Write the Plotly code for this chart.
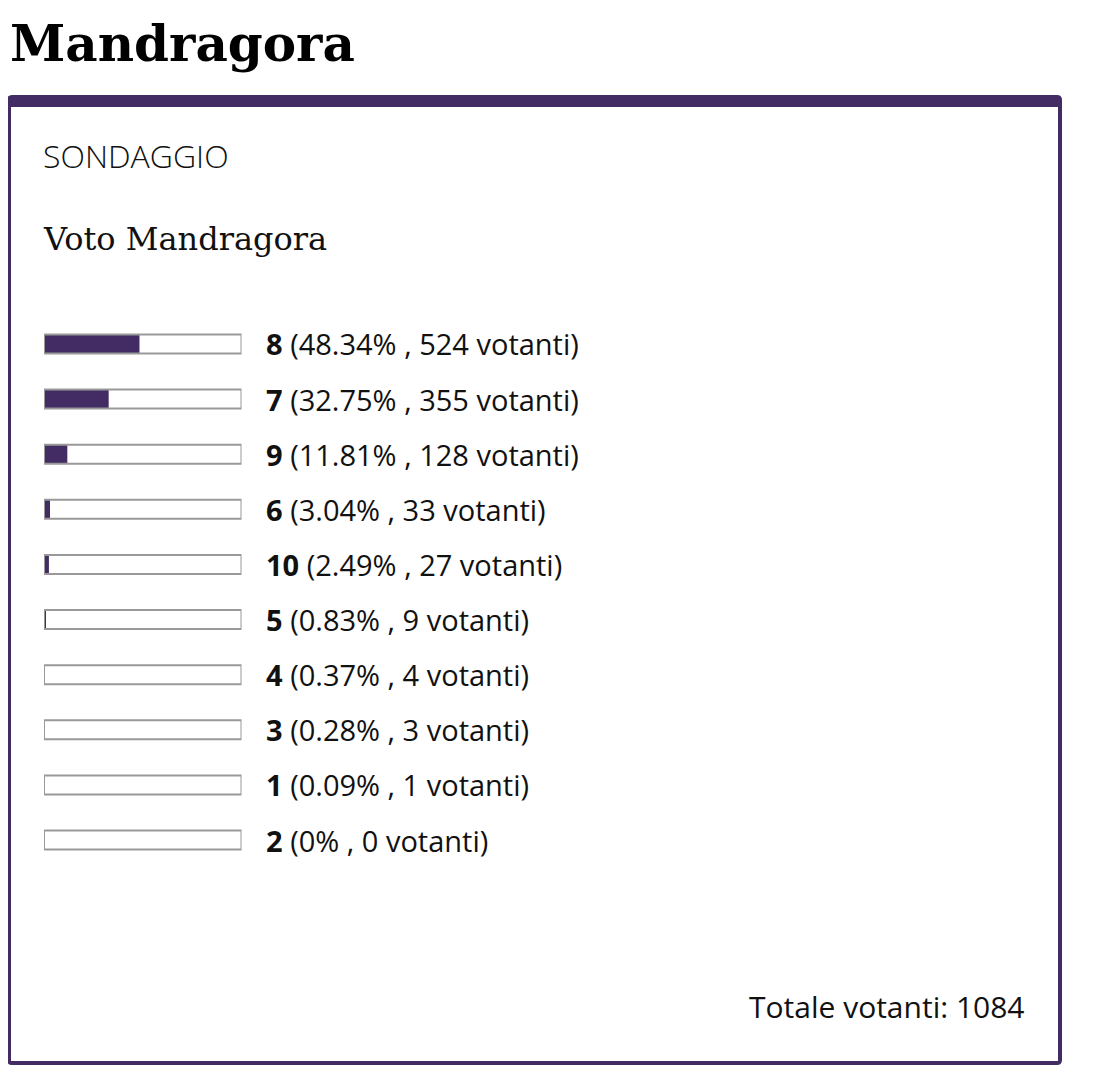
import plotly.graph_objects as go

# poll results (sorted as on the page)
options = ["8", "7", "9", "6", "10", "5", "4", "3", "1", "2"]
percents = [48.34, 32.75, 11.81, 3.04, 2.49, 0.83, 0.37, 0.28, 0.09, 0]
votes = [524, 355, 128, 33, 27, 9, 4, 3, 1, 0]
total_votes = 1084

page_title = "Mandragora"
kicker = "SONDAGGIO"
poll_title = "Voto Mandragora"

# the page body has an 8px margin, so the figure is sized to fit inside it
OFF = 8
W, H = 1096 - 2 * OFF, 1082 - 2 * OFF
PURPLE = "#432c64"
GREY = "#999999"
SANS = "Open Sans, Roboto, sans-serif"
SERIF = "DejaVu Serif, serif"


def px(x):
    return (x - OFF) / W


def py(y):
    return 1 - (y - OFF) / H


def rounded_rect(x0, y0, x1, y1, r):
    # path in paper coords, pixel inputs (y down)
    rx, ry = r / W, r / H
    a, b, c, d = px(x0), py(y0), px(x1), py(y1)
    return (f"M {a + rx},{b} L {c - rx},{b} Q {c},{b} {c},{b - ry} "
            f"L {c},{d + ry} Q {c},{d} {c - rx},{d} L {a + rx},{d} "
            f"Q {a},{d} {a},{d + ry} L {a},{b - ry} Q {a},{b} {a + rx},{b} Z")


fig = go.Figure()
# filled part
fig.add_trace(go.Bar(
    y=options, x=percents, orientation="h",
    marker=dict(color=PURPLE, line=dict(width=0)),
    width=0.345, hoverinfo="skip",
))
# outline of the full bar
fig.add_trace(go.Bar(
    y=options, x=[100] * len(options), orientation="h",
    marker=dict(color="rgba(0,0,0,0)", line=dict(color=GREY, width=2)),
    width=0.345, hoverinfo="skip",
))

annotations = []
for i, (opt, p, v) in enumerate(zip(options, percents, votes)):
    # category axis: annotation y is the category index
    annotations.append(dict(
        xref="paper", yref="y", x=px(264), y=i, xanchor="left", yanchor="middle",
        text=f"<b>{opt}</b> ({p:g}% , {v} votanti)", showarrow=False,
        font=dict(family=SANS, size=29, color="#111111"),
    ))

annotations += [
    dict(xref="paper", yref="paper", x=px(8), y=py(43), xanchor="left", yanchor="middle",
         text=f"<b>{page_title}</b>", showarrow=False,
         font=dict(family=SERIF, size=50, color="#000000")),
    dict(xref="paper", yref="paper", x=px(41), y=py(155), xanchor="left", yanchor="middle",
         text=kicker, showarrow=False,
         font=dict(family=SANS, size=32, color="#111111", weight=300)),
    dict(xref="paper", yref="paper", x=px(41), y=py(239), xanchor="left", yanchor="middle",
         text=poll_title, showarrow=False,
         font=dict(family=SERIF, size=32, color="#111111")),
    dict(xref="paper", yref="paper", x=px(1027), y=py(1006), xanchor="right", yanchor="middle",
         text=f"Totale votanti: {total_votes}", showarrow=False,
         font=dict(family=SANS, size=30, color="#111111")),
]

shapes = [
    dict(type="path", xref="paper", yref="paper", layer="below",
         path=rounded_rect(7, 95, 1062, 1065, 5), fillcolor=PURPLE, line=dict(width=0)),
    dict(type="rect", xref="paper", yref="paper", layer="below",
         x0=px(11), x1=px(1058), y0=py(107), y1=py(1061), fillcolor="white", line=dict(width=0)),
]

fig.update_layout(
    width=W, height=H,
    margin=dict(l=0, r=0, t=0, b=0),
    paper_bgcolor="white", plot_bgcolor="rgba(0,0,0,0)",
    barmode="overlay", showlegend=False,
    xaxis=dict(range=[0, 100], domain=[px(44), px(241.5)], visible=False, fixedrange=True),
    yaxis=dict(type="category", categoryorder="array", categoryarray=options, range=[9.5, -0.5],
               domain=[py(867.6), py(316.4)], visible=False, fixedrange=True),
    annotations=annotations, shapes=shapes,
)

fig.write_html("out.html", config={"displayModeBar": False})
